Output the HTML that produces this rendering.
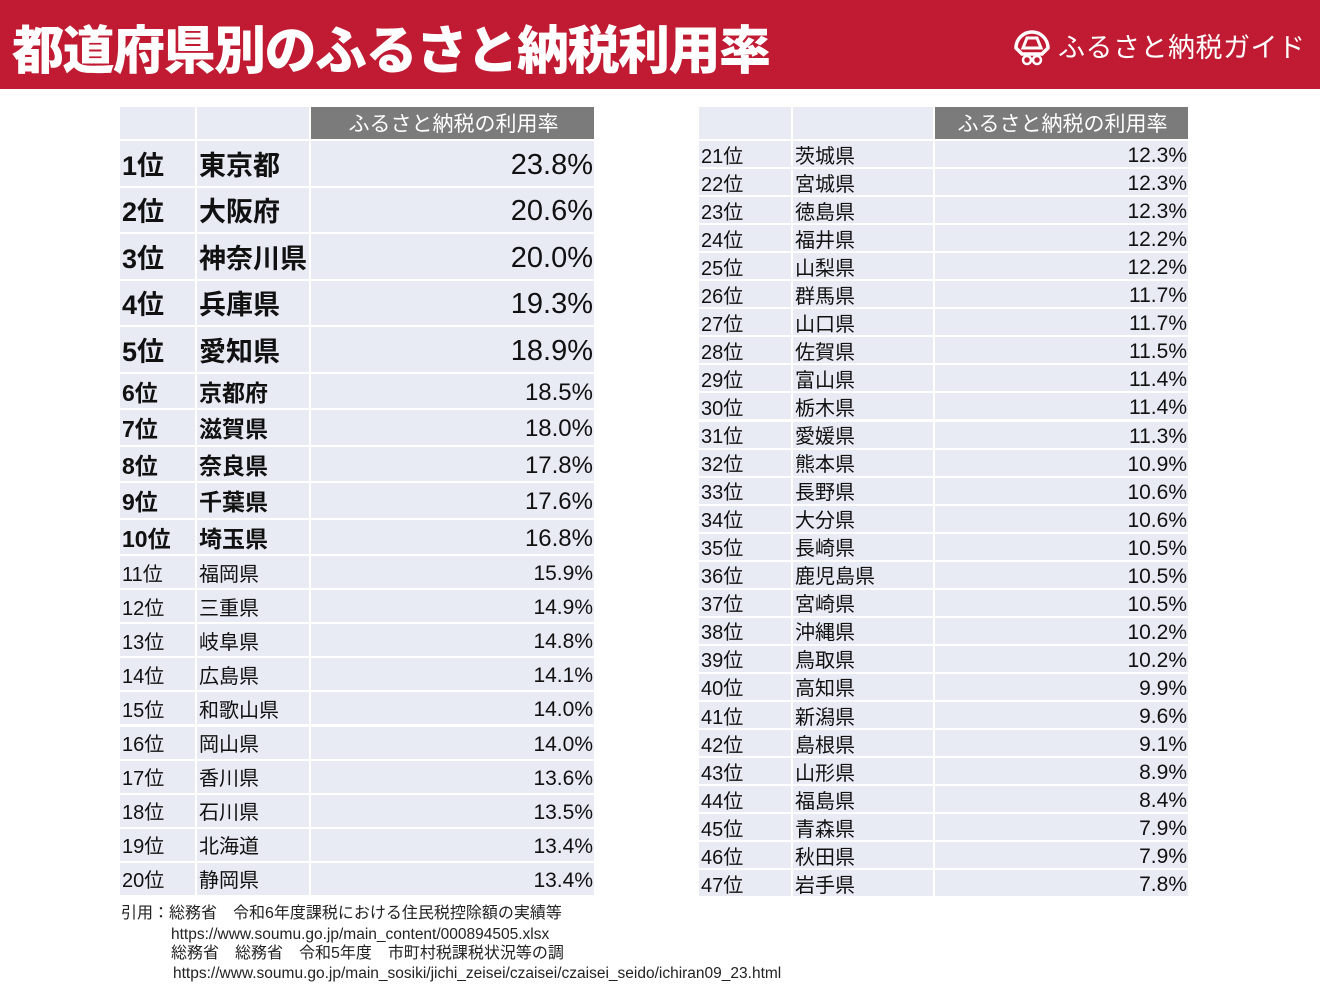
<!DOCTYPE html>
<html><head><meta charset="utf-8">
<style>
*{margin:0;padding:0;box-sizing:border-box}
body{width:1320px;height:990px;background:#fff;position:relative;overflow:hidden;font-family:"Liberation Sans","Noto Sans CJK JP",sans-serif;color:#111}
#hdr{position:absolute;left:0;top:0;width:1320px;height:89px;background:#c01b32}
#title{position:absolute;left:12px;top:9px;font-size:52px;font-weight:900;color:#fff;letter-spacing:-1.5px;white-space:nowrap}
#logo{position:absolute;left:1012px;top:24px;width:40px;height:42px}
#logotxt{position:absolute;left:1058px;top:26px;font-size:27px;color:#fff;letter-spacing:0.5px;white-space:nowrap}
.c{position:absolute;background:#e8eaf4;display:flex;align-items:center;white-space:nowrap;overflow:visible}
.h{background:#7b7b7b;color:#fff;justify-content:center;font-size:21px}
.r{justify-content:flex-end}
.src{position:absolute;font-size:16px;line-height:16px;white-space:nowrap;color:#222}
</style></head><body>
<div id="hdr">
<div id="title">都道府県別のふるさと納税利用率</div>
<svg id="logo" viewBox="0 0 40 42"><path d="M4 24 A16 16 0 0 1 36 24 L30 30 L10 30 Z" fill="none" stroke="#fff" stroke-width="3.5"/><path d="M11 24 L15 14 L25 14 L29 24 Z" fill="none" stroke="#fff" stroke-width="3"/><circle cx="15" cy="36" r="4" fill="none" stroke="#fff" stroke-width="2.5"/><circle cx="25" cy="36" r="4" fill="none" stroke="#fff" stroke-width="2.5"/></svg>
<div id="logotxt">ふるさと納税ガイド</div>
</div>
<div id="tables"></div>
<div class="src" style="left:121px;top:906px">引用：総務省　令和6年度課税における住民税控除額の実績等</div>
<div class="src" style="left:171px;top:927px;font-size:15.5px">https://www.soumu.go.jp/main_content/000894505.xlsx</div>
<div class="src" style="left:171px;top:946px">総務省　総務省　令和5年度　市町村税課税状況等の調</div>
<div class="src" style="left:173px;top:966px;font-size:15.5px">https://www.soumu.go.jp/main_sosiki/jichi_zeisei/czaisei/czaisei_seido/ichiran09_23.html</div>
<script>
const prefectures=["東京都","大阪府","神奈川県","兵庫県","愛知県","京都府","滋賀県","奈良県","千葉県","埼玉県","福岡県","三重県","岐阜県","広島県","和歌山県","岡山県","香川県","石川県","北海道","静岡県","茨城県","宮城県","徳島県","福井県","山梨県","群馬県","山口県","佐賀県","富山県","栃木県","愛媛県","熊本県","長野県","大分県","長崎県","鹿児島県","宮崎県","沖縄県","鳥取県","高知県","新潟県","島根県","山形県","福島県","青森県","秋田県","岩手県"];
const rates=[23.8,20.6,20.0,19.3,18.9,18.5,18.0,17.8,17.6,16.8,15.9,14.9,14.8,14.1,14.0,14.0,13.6,13.5,13.4,13.4,12.3,12.3,12.3,12.2,12.2,11.7,11.7,11.5,11.4,11.4,11.3,10.9,10.6,10.6,10.5,10.5,10.5,10.2,10.2,9.9,9.6,9.1,8.9,8.4,7.9,7.9,7.8];
const headerLabel="ふるさと納税の利用率";
const T=document.getElementById('tables');
function cell(x,y,w,h,cls,txt,fs,fw,pad){
  const d=document.createElement('div');
  d.className='c '+cls;
  d.style.cssText=`left:${x}px;top:${y}px;width:${w}px;height:${h}px;font-size:${fs}px;font-weight:${fw};padding:0 ${pad||0}px 0 ${pad?0:2}px`;
  d.textContent=txt;T.appendChild(d);return d;
}
function table(x0,cols,start,end,rowFn,tname){
  const y0=107,hh=32;
  const a=cell(x0,y0,cols[0]-2,hh,'','',20,400);
  
  
  const b=cell(x0+cols[0],y0,cols[1]-2,hh,'','',20,400);
  
  
  const hc=cell(x0+cols[0]+cols[1],y0,cols[2],hh,'h',headerLabel,21,400);
  
  
  let y=y0+hh+2;
  for(let i=start;i<end;i++){
    const [h,fs,fw,vfs,vfw]=rowFn(i);
    const r=cell(x0,y,cols[0]-2,h-2,'',(i+1)+'位',fs,fw);
    
    
    const p=cell(x0+cols[0],y,cols[1]-2,h-2,'',prefectures[i],fs,fw);
    
    
    const v=cell(x0+cols[0]+cols[1],y,cols[2],h-2,'r',rates[i].toFixed(1)+'%',vfs,vfw,1);
    
    
    v.style.paddingTop='4px';
    y+=h;
  }
}
table(120,[77,114,283],0,20,i=>i<5?[46.5,27,700,29,400]:i<10?[36.5,23,700,24,400]:[34.1,20,400,21,400],'left-table');
table(699,[94,142,253],20,47,i=>[28.05,20,400,21,400],'right-table');
</script>
</body></html>
